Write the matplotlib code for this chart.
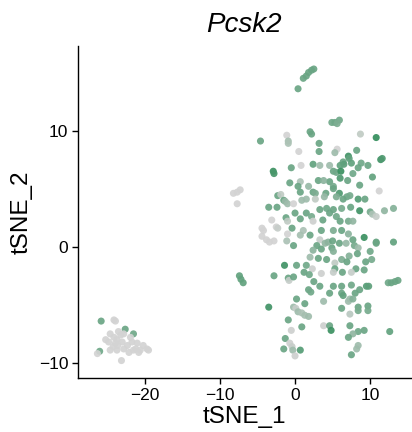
import numpy as np
import matplotlib
matplotlib.use('Agg')
import matplotlib.pyplot as plt
from matplotlib.colors import LinearSegmentedColormap

# tSNE embedding and Pcsk2 expression per cell
tsne_1 = [
    -25.8, -26.0, -26.3, -24.1, -23.9, -22.6, -21.5,
    -24.6, -24.1, -23.7, -23.2, -24.8, -23.9, -23.0, -22.3, -21.7, -21.0,
    -24.6, -23.7, -22.8, -22.1, -21.5, -20.8, -20.2, -19.7, -19.5, -23.1,
    -23.5, -22.8, -25.2, -24.2, -21.9, -21.2, -20.6, -23.6,
    0.4, 1.1, 1.5, 1.8, 2.2, 2.5,
    -8.2, -7.7, -7.3, -7.7, -7.4, -7.2, -6.9,
    4.9, 5.3, 5.9, 5.6, 2.0, 2.2, -1.1, 8.7, 10.8, -4.6, -0.9, -0.9,
    3.2, 5.6, 5.3, 0.5, 3.2, 8.2, 7.1, 7.2, 11.4, 11.6,
    6.4, 6.5, 7.5, 8.8, 9.7, 2.4, 3.3, 4.6, 0.8, -0.5, 6.0, 5.1, 5.5,
    8.4, 7.7, 6.1, -2.9, -2.8, 10.3, 6.0, 7.0, 4.6, 3.1, 3.8, 0.7, -0.7,
    0.4, 1.8, 8.6, 5.1, 2.4, 2.7, 4.1, 5.1, 5.9, 6.9, 7.3, 11.2, 0.7,
    -2.3, -1.9, 3.9, 5.5, 6.4, 8.4, 9.3, -1.5, -1.3, -1.0, 0.9, 1.5, 2.7,
    -0.2, -3.5, -2.4, 3.3, 4.2, 5.1, 6.2, 7.4, 8.6, 10.0, 10.3, 11.9, 13.1,
    10.8, 1.5, 0.0, 2.2, 4.6, 0.7, 5.5, -3.1, -1.2, -1.0, 2.4, 3.7, 6.0,
    7.1, 7.7, -0.4, -2.5, -2.3, -4.4, -4.2, 1.1, 3.5, 5.1, 6.2, -1.0, 7.1,
    -4.4, -3.8, -3.4, -2.8, -1.1, -0.2, 2.0, 3.3, 2.9, 4.0, 4.4, 5.0, 5.9,
    6.8, 7.7, 7.9, 8.4, 9.2, 10.8, 10.8, 13.1, 0.7,
    2.4, 3.5, 4.9, 5.1, 7.2, 8.3, 10.0, 10.2, 2.0, 3.1, 4.2, 5.3, 6.2, 6.9,
    9.4, 2.3, 1.5, 0.2, -1.4, 8.1, 9.2, 5.3,
    -0.9, -0.8, -0.2, 1.2, 1.9, 3.5, 5.1, 6.3, 7.5, -2.8, 2.5, 3.3, 5.1,
    6.2, 7.5, 9.5, 9.8, 8.6, 12.4, 12.8, 13.3, 13.7,
    1.8, 2.1, 4.6, 6.2, 6.4, 8.0, 7.3, 7.1, 7.7, 0.2, 3.8, 1.3, 6.2, 8.4,
    8.4, 9.7, 9.7, -3.5, -0.2, 0.1, 0.4, 0.9, 1.3, 1.8, 7.3, -0.9, 3.8,
    4.6, 7.3, 0.9, 4.8, 9.2, 8.4, 12.6, 7.7,
    -1.3, -0.7, -1.5, -0.4, -0.3, 0.7, 0.0, 7.1, 8.4, 8.2, 7.5, -0.5,
]
tsne_2 = [
    -6.4, -9.0, -9.2, -6.3, -6.4, -7.1, -7.5,
    -7.5, -7.8, -8.0, -7.6, -8.2, -8.3, -8.2, -8.5, -8.2, -8.3,
    -8.9, -8.9, -8.8, -9.1, -8.9, -9.1, -8.5, -8.8, -8.9, -9.8,
    -7.3, -7.5, -8.0, -8.6, -7.8, -8.8, -8.9, -8.5,
    13.6, 14.5, 14.7, 15.0, 15.2, 15.3,
    4.6, 4.7, 4.9, 3.7, -2.5, -2.8, -3.1,
    10.7, 10.7, 10.9, 10.6, 9.9, 9.7, 9.6, 9.7, 9.4, 9.1, 9.1, 8.9,
    8.9, 8.4, 8.1, 8.2, 8.2, 8.3, 7.8, 7.6, 7.5, 7.6,
    7.3, 7.1, 7.2, 7.2, 7.0, 7.1, 7.0, 7.0, 7.0, 6.8, 7.0, 6.5, 6.4,
    6.8, 6.3, 6.5, 6.5, 6.3, 6.0, 5.9, 5.7, 5.6, 5.7, 5.7, 5.6, 5.5,
    5.2, 5.2, 5.3, 5.2, 4.7, 4.6, 4.6, 5.0, 4.6, 4.3, 4.4, 4.8, 4.7,
    4.4, 4.5, 4.3, 4.3, 4.1, 4.1, 4.1, 4.0, 3.9, 3.7, 4.0, 4.1, 4.1,
    3.7, 3.4, 3.4, 3.2, 3.3, 3.2, 3.3, 3.4, 3.1, 3.0, 2.8, 3.1, 3.3,
    2.6, 2.9, 2.9, 2.6, 2.9, 2.4, 2.6, 2.3, 2.5, 2.2, 2.2, 2.3, 2.2,
    2.2, 2.2, 1.6, 1.7, 1.6, 1.6, 1.4, 1.4, 1.4, 1.4, 1.4, 1.1, 1.1,
    0.9, 0.6, 0.4, 0.5, 0.5, 0.1, 1.0, 0.6, 0.1, 0.3, 0.4, 0.5, 0.3,
    0.3, 0.6, 0.1, -0.1, 0.8, 0.4, 0.3, 0.4, 1.0,
    -0.3, -0.2, -0.1, -0.4, -0.8, -0.6, -0.4, -1.1, -0.9, -1.0, -1.1, -1.4, -1.1, -1.3,
    -1.3, -1.9, -1.6, -1.6, -1.6, -1.9, -2.0, -1.9,
    -2.7, -2.9, -2.6, -2.2, -2.4, -2.3, -2.2, -2.2, -2.2, -2.5, -3.0, -3.4, -3.4,
    -3.4, -3.3, -3.4, -3.4, -3.7, -3.1, -3.1, -3.0, -2.9,
    -3.7, -3.9, -4.0, -4.0, -4.2, -4.0, -4.5, -4.7, -4.5, -4.5, -4.7, -4.9, -5.3, -5.2,
    -5.5, -5.1, -5.5, -5.2, -5.2, -5.3, -5.6, -5.7, -5.9, -6.0, -5.8, -6.3, -6.8,
    -6.8, -6.8, -6.9, -7.2, -7.2, -7.3, -7.3, -7.5,
    -7.9, -8.3, -8.8, -8.6, -8.9, -8.9, -9.4, -7.8, -8.5, -8.8, -9.3, -7.2,
]
expression = [
    1.6, 1.5, 0.0, 0.0, 0.0, 1.6, 1.5,
    0, 0, 0, 0, 0, 0, 0, 0, 0, 0,
    0, 0, 0, 0, 0, 0, 0, 0, 0, 0,
    0, 0, 0, 0, 0, 0, 0, 0,
    1.6, 1.6, 1.6, 1.6, 1.6, 1.6,
    0, 0, 0, 0, 1.7, 1.7, 1.7,
    1.5, 1.5, 1.5, 1.3, 1.6, 1.6, 0.0, 0.3, 2.4, 1.6, 0.7, 0.6,
    1.6, 0.0, 0.8, 0.0, 1.6, 1.6, 2.2, 1.7, 2.2, 2.0,
    1.6, 1.8, 1.7, 1.5, 1.6, 1.7, 0.8, 0.8, 0.0, 1.6, 1.7, 1.6, 1.5,
    1.6, 1.5, 2.3, 2.3, 2.1, 1.7, 2.0, 1.6, 1.6, 1.6, 1.1, 0.6, 1.6,
    1.6, 0.9, 1.6, 1.4, 1.6, 1.3, 1.6, 1.6, 2.0, 1.5, 1.4, 0.0, 1.6,
    1.6, 0.3, 0.9, 1.3, 1.6, 1.9, 1.6, 1.6, 0.9, 0.8, 0.8, 0.8, 0.3,
    0.0, 1.6, 1.6, 1.6, 1.5, 1.6, 1.4, 1.6, 2.2, 1.4, 0.6, 1.0, 1.2,
    0.2, 1.6, 1.6, 1.4, 1.6, 1.6, 1.5, 0.0, 1.6, 0.3, 0.1, 1.6, 1.6,
    1.4, 1.0, 1.6, 0.0, 0.2, 0.0, 0.0, 0.6, 1.6, 1.3, 1.6, 0.0, 1.1,
    0.0, 0.0, 0.0, 0.0, 0.6, 1.6, 1.6, 0.2, 1.6, 1.0, 1.1, 1.6, 1.6,
    0.9, 1.6, 1.4, 0.8, 2.3, 1.7, 1.6, 1.7, 0.7,
    1.1, 1.6, 1.6, 1.2, 1.2, 1.6, 1.5, 1.4, 0.8, 1.6, 1.6, 0.3, 1.3, 1.6,
    1.6, 0.1, 1.5, 1.6, 2.2, 1.6, 1.6, 1.6,
    1.6, 0.2, 1.6, 1.6, 1.5, 0.1, 0.2, 1.6, 0.2, 1.6, 1.6, 1.6, 1.6,
    1.6, 1.5, 1.9, 1.8, 1.6, 1.5, 1.6, 1.6, 1.6,
    1.6, 1.5, 1.6, 1.6, 1.7, 1.6, 0.8, 0.8, 1.2, 1.6, 0.8, 1.6, 1.6, 1.6,
    1.4, 1.6, 1.4, 2.2, 0.8, 0.2, 0.8, 0.6, 0.7, 0.8, 0.4, 1.6, 0.1,
    1.6, 1.6, 1.6, 2.3, 1.6, 1.5, 1.7, 1.0,
    1.6, 0.1, 1.6, 0.2, 0.8, 1.9, 0.1, 1.6, 0.8, 0.8, 1.6, 0.1,
]

x = np.array(tsne_1)
y = np.array(tsne_2)
e = np.array(expression)

# lightgrey -> seagreen ramp like FeaturePlot
cmap = LinearSegmentedColormap.from_list('grey_green', ['#D3D3D3', '#2E8B57'])

plt.rcParams['font.family'] = ['Liberation Sans', 'DejaVu Sans']

fig = plt.figure(figsize=(4.12, 4.32), dpi=100)
ax = fig.add_axes([0.189, 0.125, 0.808, 0.769])

ax.scatter(x, y, c=e, cmap=cmap, vmin=0, vmax=2.5, s=26,
           edgecolors='none', alpha=0.92)

ax.set_xlim(-28.9, 15.4)
ax.set_ylim(-11.3, 17.3)
ax.set_xticks([-20, -10, 0, 10])
ax.set_yticks([-10, 0, 10])
ax.set_xticklabels(['\u221220', '\u221210', '0', '10'])
ax.set_yticklabels(['\u221210', '0', '10'])

for side in ['top', 'right']:
    ax.spines[side].set_visible(False)
for side in ['left', 'bottom']:
    ax.spines[side].set_linewidth(1.0)
    ax.spines[side].set_color('black')

ax.tick_params(axis='both', length=4, width=1.0, labelsize=12.5,
               colors='black', pad=3)

ax.set_xlabel('tSNE_1', fontsize=17.5, labelpad=2)
ax.set_ylabel('tSNE_2', fontsize=17.5, labelpad=4)
ax.set_title('Pcsk2', fontsize=20, style='italic', pad=10)

fig.savefig('out.png', dpi=100, facecolor='white')
